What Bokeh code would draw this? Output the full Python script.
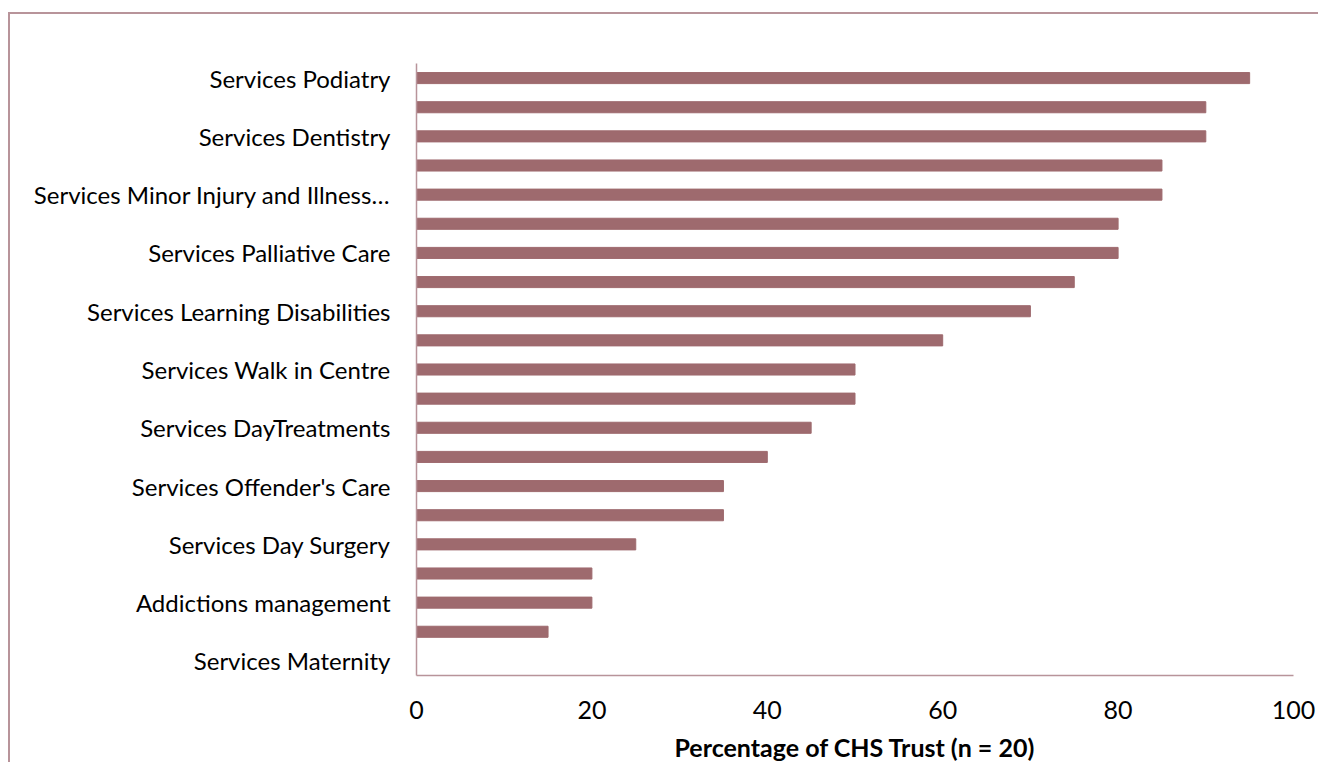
from bokeh.plotting import figure
from bokeh.models import Range1d, FixedTicker
from bokeh.embed import file_html
from bokeh.resources import INLINE

labels = [
    "Services Podiatry", "", "Services Dentistry", "",
    "Services Minor Injury and Illness\u2026", "", "Services Palliative Care", "",
    "Services Learning Disabilities", "", "Services Walk in Centre", "",
    "Services DayTreatments", "", "Services Offender's Care", "",
    "Services Day Surgery", "", "Addictions management", "",
    "Services Maternity",
]
values = [95, 90, 90, 85, 85, 80, 80, 75, 70, 60, 50, 50, 45, 40, 35, 35, 25, 20, 20, 15, 0]
x_ticks = [0, 20, 40, 60, 80, 100]

BAR = "#9E6A6E"
LINE = "#B8949A"
FONT = "Lato"

idx = list(range(len(labels)))

p = figure(width=1310, height=750, output_backend="svg", toolbar_location=None,
           x_range=Range1d(0, 100), y_range=Range1d(len(labels) - 0.5, -0.5),
           min_border_left=406, min_border_right=27, min_border_top=49, min_border_bottom=86)
p.margin = (12, 0, 0, 8)
p.styles = {"border-top": "2px solid " + LINE, "border-left": "2px solid " + LINE}

p.hbar(y=idx, right=values, left=0, height=0.38, color=BAR)

p.xgrid.visible = False
p.ygrid.visible = False
p.outline_line_color = None

xa = p.xaxis[0]
xa.ticker = FixedTicker(ticks=x_ticks)
xa.axis_line_color = LINE
xa.axis_line_width = 1.5
xa.major_tick_line_color = None
xa.minor_tick_line_color = None
xa.major_tick_out = 0
xa.major_tick_in = 0
xa.major_label_text_font = FONT
xa.major_label_text_font_size = "25px"
xa.major_label_text_color = "black"
xa.major_label_text_line_height = 1.0
xa.major_label_standoff = 25
xa.axis_label = "Percentage of CHS Trust (n = 20)"
xa.axis_label_text_font = FONT
xa.axis_label_text_font_style = "bold"
xa.axis_label_text_font_size = "25px"
xa.axis_label_text_color = "black"
xa.axis_label_text_line_height = 1.0
xa.axis_label_standoff = 10

ya = p.yaxis[0]
shown = [i for i, t in enumerate(labels) if t]
ya.ticker = FixedTicker(ticks=shown)
ya.major_label_overrides = {i: labels[i] for i in shown}
ya.axis_line_color = LINE
ya.axis_line_width = 1.5
ya.major_tick_line_color = None
ya.minor_tick_line_color = None
ya.major_tick_out = 0
ya.major_tick_in = 0
ya.major_label_text_font = FONT
ya.major_label_text_font_size = "24px"
ya.major_label_text_color = "black"
ya.major_label_standoff = 26

open("out.html", "w").write(file_html(p, INLINE))
